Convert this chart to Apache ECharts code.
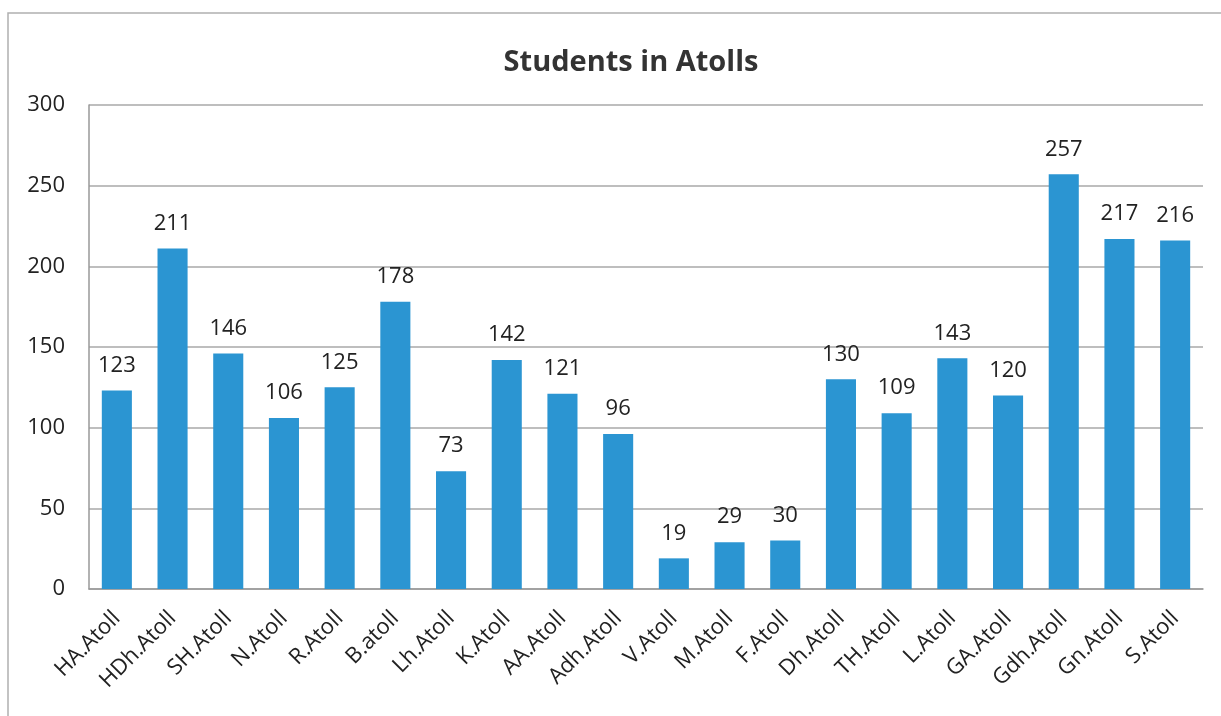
<!DOCTYPE html>
<html>
<head>
<meta charset="utf-8">
<script src="https://cdn.jsdelivr.net/npm/echarts@6/dist/echarts.min.js"></script>
<style>
  html, body { margin: 0; padding: 0; background: #fff; }
  #chart { width: 1221px; height: 716px; }
</style>
</head>
<body>
<div id="chart"></div>
<script>
const atolls = ['HA.Atoll', 'HDh.Atoll', 'SH.Atoll', 'N.Atoll', 'R.Atoll', 'B.atoll', 'Lh.Atoll',
  'K.Atoll', 'AA.Atoll', 'Adh.Atoll', 'V.Atoll', 'M.Atoll', 'F.Atoll', 'Dh.Atoll', 'TH.Atoll',
  'L.Atoll', 'GA.Atoll', 'Gdh.Atoll', 'Gn.Atoll', 'S.Atoll'];
const students = [123, 211, 146, 106, 125, 178, 73, 142, 121, 96, 19, 29, 30, 130, 109, 143, 120, 257, 217, 216];

const font = '"Open Sans", "Noto Sans", sans-serif';
const chart = echarts.init(document.getElementById('chart'));

chart.setOption({
  animation: false,
  title: {
    text: 'Students in Atolls',
    left: 626,
    textAlign: 'center',
    top: 43,
    textStyle: { fontFamily: font, fontSize: 29, fontWeight: 'bold', color: '#333' }
  },
  graphic: [{
    type: 'rect',
    shape: { x: 8, y: 13, width: 1300, height: 800 },
    style: { fill: 'none', stroke: '#b0b0b0', lineWidth: 1.5 },
    silent: true
  }],
  grid: { left: 89, right: 18, top: 105, bottom: 127 },
  xAxis: {
    type: 'category',
    data: atolls,
    axisLine: { lineStyle: { color: '#999', width: 1.5 } },
    axisTick: { show: false },
    axisLabel: {
      rotate: 45,
      interval: 0,
      margin: 26,
      fontFamily: font,
      fontSize: 22,
      color: '#222'
    }
  },
  yAxis: {
    type: 'value',
    min: 0,
    max: 300,
    interval: 50,
    axisLine: { show: true, lineStyle: { color: '#999', width: 1.5 } },
    axisTick: { show: false },
    axisLabel: { fontFamily: font, fontSize: 22, color: '#222', margin: 24 },
    splitLine: { lineStyle: { color: '#a8a8a8', width: 1.5 } }
  },
  series: [{
    type: 'bar',
    data: students,
    barWidth: '54%',
    itemStyle: { color: '#2b95d2' },
    label: {
      show: true,
      position: 'top',
      distance: 14,
      fontFamily: font,
      fontSize: 22,
      color: '#222'
    }
  }]
});
</script>
</body>
</html>
